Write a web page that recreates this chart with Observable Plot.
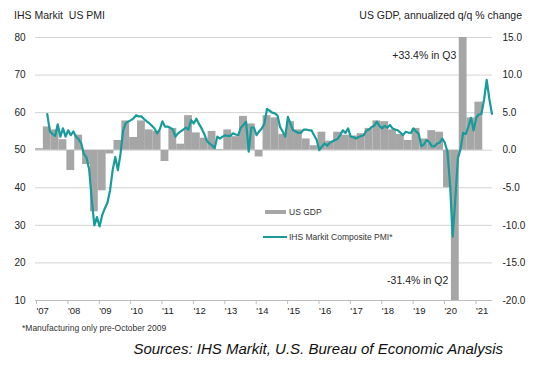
<!DOCTYPE html>
<html>
<head>
<meta charset="utf-8">
<script src="https://cdn.jsdelivr.net/npm/d3@7"></script>
<script src="https://cdn.jsdelivr.net/npm/@observablehq/plot@0.6"></script>
<style>
  html, body { margin: 0; padding: 0; background: #fff; }
  #chart { width: 550px; height: 366px; }
</style>
</head>
<body>
<div id="chart"></div>
<script>
// ---- Data ----
// US GDP, annualized q/q % change, quarterly from 2007 Q1
const gdpFirstYear = 2007;
const gdpQoQ = [
  0.2, 3.1, 2.7, 1.4,     // 2007
  -2.7, 2.0, -1.9, -8.2,  // 2008
  -5.4, -0.5, 1.3, 3.9,   // 2009
  1.7, 3.9, 2.7, 2.5,     // 2010
  -1.5, 2.9, 0.8, 4.6,    // 2011
  2.3, 1.6, 2.5, 0.1,     // 2012
  2.7, 1.8, 4.5, 3.5,     // 2013
  -0.9, 4.6, 4.3, 2.1,    // 2014
  3.8, 2.7, 1.5, 0.6,     // 2015
  2.4, 1.2, 2.4, 2.0,     // 2016
  1.9, 2.2, 2.9, 3.9,     // 2017
  3.8, 2.7, 2.1, 1.3,     // 2018
  2.9, 1.5, 2.6, 2.4,     // 2019
  -5.0, -31.4, 33.4, 4.3, // 2020
  6.4                     // 2021
];

// IHS Markit US PMI (manufacturing pre-Oct 2009, composite after), monthly from May 2007
const pmiFirstYear = 2007;
const pmiFirstMonth = 5;
const pmiValues = [
  59.6, 55.0, 54.3, 53.8, 56.9, 53.6, 55.8, 53.6,                   // 2007 May-Dec
  55.3, 54.0, 55.0, 53.6, 52.9, 51.8, 49.0, 48.0, 45.0, 37.0, 30.0, 32.2, // 2008
  29.7, 32.7, 34.5, 36.0, 39.3, 44.7, 48.2, 44.7, 49.0, 55.3, 57.2, 57.6, // 2009
  58.0, 58.5, 59.3, 59.0, 59.0, 58.3, 57.7, 57.2, 56.5, 55.8, 54.5, 55.5, // 2010
  57.7, 56.3, 56.3, 56.0, 55.5, 53.6, 54.5, 55.0, 55.5, 56.0, 55.5, 58.0, // 2011
  57.1, 58.4, 57.0, 55.8, 54.4, 52.5, 51.8, 51.3, 50.5, 53.6, 53.1, 53.6, // 2012
  54.0, 53.8, 53.8, 54.5, 54.2, 54.0, 56.0, 56.7, 57.6, 49.6, 56.0, 56.0, // 2013
  54.0, 55.0, 55.8, 57.0, 61.0, 60.5, 60.0, 59.8, 59.3, 56.2, 55.0, 53.6, // 2014
  58.9, 57.0, 55.3, 55.0, 54.6, 54.6, 55.5, 55.5, 55.3, 55.3, 54.0, 52.7, // 2015
  50.0, 51.0, 51.8, 51.2, 52.0, 52.3, 52.7, 53.0, 54.0, 55.3, 54.6, 55.8, // 2016
  53.6, 53.5, 53.1, 53.5, 53.8, 54.0, 55.2, 55.5, 56.2, 56.5, 57.6, 56.5, // 2017
  55.8, 56.5, 56.0, 56.7, 55.8, 55.5, 55.3, 54.7, 54.0, 54.9, 54.7, 54.6, // 2018
  55.8, 55.0, 54.4, 51.1, 51.5, 52.7, 52.2, 51.1, 51.0, 51.8, 52.0, 53.1, // 2019
  52.0, 49.6, 40.9, 27.0, 37.0, 47.9, 50.3, 54.6, 54.3, 56.3, 58.6, 55.3, // 2020
  58.7, 59.5, 59.7, 63.5, 68.7, 63.7, 59.7                          // 2021 Jan-Jul
];

const pmiTicks = [10, 20, 30, 40, 50, 60, 70, 80];
const yearTicks = [2007, 2008, 2009, 2010, 2011, 2012, 2013, 2014, 2015, 2016, 2017, 2018, 2019, 2020, 2021];

const seriesNames = ["US GDP", "IHS Markit Composite PMI*"];
const titleLeft = "IHS Markit  US PMI";
const titleRight = "US GDP, annualized q/q % change";
const noteQ3 = "+33.4% in Q3";
const noteQ2 = "-31.4% in Q2";
const footnote = "*Manufacturing only pre-October 2009";
const sources = "Sources: IHS Markit, U.S. Bureau of Economic Analysis";

// ---- Tables ----
// GDP mapped onto the PMI axis: 0% <-> 50, 5 pts of GDP <-> 10 pts of PMI
const gdpToPmi = g => 50 + 2 * g;
const gdpRows = gdpQoQ.map((v, i) => ({
  x1: gdpFirstYear + i / 4,
  x2: gdpFirstYear + (i + 1) / 4,
  v
}));
const pmiRows = pmiValues.map((v, i) => ({
  x: pmiFirstYear + (pmiFirstMonth - 1 + i + 0.5) / 12,
  v
}));
const q3 = gdpRows[gdpRows.length - 3];
const q2 = gdpRows[gdpRows.length - 4];

const FONT = "'Liberation Sans', Arial, sans-serif";
const GRAY = "#a6a6a6";
const TEAL = "#179b9b";

const svg = Plot.plot({
  width: 550,
  height: 366,
  marginLeft: 35,
  marginRight: 58,
  marginTop: 37,
  marginBottom: 66,
  style: { fontFamily: FONT, fontSize: "10px", color: "#222", background: "#fff", overflow: "visible" },
  x: { type: "linear", domain: [2007, 2021.56] },
  y: { domain: [10, 80] },
  marks: [
    Plot.gridY(pmiTicks.filter(t => t > 10), { stroke: "#d3d3d3", strokeOpacity: 1 }),
    Plot.rect(gdpRows, {
      x1: "x1", x2: "x2",
      y1: () => gdpToPmi(0),
      y2: d => gdpToPmi(d.v),
      fill: GRAY, clip: true
    }),
    Plot.ruleY([10], { stroke: "#bdbdbd" }),
    Plot.line(pmiRows, { x: "x", y: "v", stroke: TEAL, strokeWidth: 2.2, curve: "linear" }),
    Plot.axisY(pmiTicks, { anchor: "left", tickSize: 0, tickPadding: 10, fontSize: 10, label: null }),
    Plot.axisY(pmiTicks, {
      anchor: "right", tickSize: 0, tickPadding: 10, fontSize: 10, label: null,
      tickFormat: v => ((v - 50) / 2).toFixed(1)
    }),
    Plot.axisX(yearTicks, {
      tickSize: 4, tickPadding: 3, stroke: "#bdbdbd", fontSize: 9.5, label: null,
      textAnchor: "start", dx: 1,
      tickFormat: d => "'" + String(d).slice(2)
    }),
    Plot.text([noteQ3], { x: q3.x1, frameAnchor: "top", dy: 14, dx: -3, textAnchor: "end", fontSize: 10.5, fill: "#222" }),
    Plot.text([noteQ2], { x: q2.x1, frameAnchor: "bottom", dy: -17, dx: -3, textAnchor: "end", fontSize: 10.5, fill: "#222" })
  ]
});

document.getElementById("chart").appendChild(svg);

// ---- Titles, legend, notes ----
const s = d3.select(svg);
s.append("text").attr("x", 14).attr("y", 19).attr("font-size", 10.5).attr("fill", "#222")
  .attr("text-anchor", "start").style("white-space", "pre").text(titleLeft);
s.append("text").attr("x", 522).attr("y", 19).attr("font-size", 10.5).attr("fill", "#222")
  .attr("text-anchor", "end").text(titleRight);

const lg = s.append("g").attr("font-size", 8.5).attr("fill", "#333").attr("text-anchor", "start");
lg.append("line").attr("x1", 265).attr("x2", 286).attr("y1", 212).attr("y2", 212)
  .attr("stroke", GRAY).attr("stroke-width", 4);
lg.append("text").attr("x", 289).attr("y", 212).attr("dy", "0.35em").text(seriesNames[0]);
lg.append("line").attr("x1", 263).attr("x2", 287).attr("y1", 237).attr("y2", 237)
  .attr("stroke", TEAL).attr("stroke-width", 2);
lg.append("text").attr("x", 289).attr("y", 237).attr("dy", "0.35em").text(seriesNames[1]);

s.append("text").attr("x", 22).attr("y", 331).attr("font-size", 8.5).attr("fill", "#333")
  .attr("text-anchor", "start").text(footnote);
s.append("text").attr("x", 503).attr("y", 354).attr("font-size", 15).attr("font-style", "italic")
  .attr("fill", "#111").attr("text-anchor", "end").text(sources);
</script>
</body>
</html>
